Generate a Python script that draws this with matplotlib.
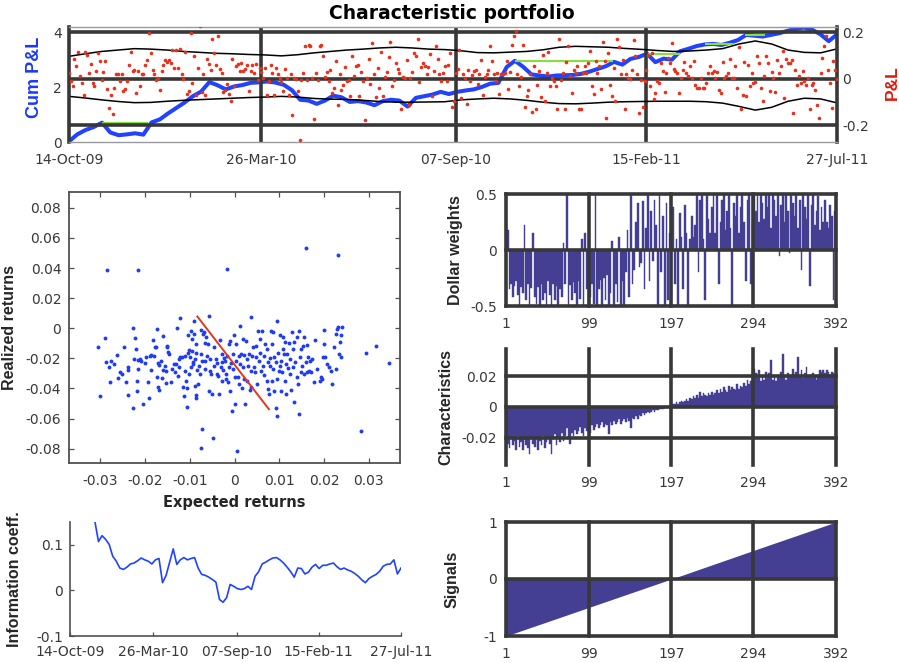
import numpy as np
import pandas as pd
import matplotlib
matplotlib.use("Agg")
import matplotlib.pyplot as plt

plt.rcParams['font.family'] = ['DejaVu Sans']
plt.rcParams['axes.unicode_minus'] = False

# ---------------------------------------------------------------- data
start, end = '2009-10-14', '2011-07-27'
date_ticks = ['14-Oct-09', '26-Mar-10', '07-Sep-10', '15-Feb-11', '27-Jul-11']

# weekly cumulative P&L
cum_pnl = [
    0.02, 0.28, 0.44, 0.55, 0.71, 0.35, 0.25, 0.28, 0.32, 0.27,
    0.72, 0.83, 1.05, 1.25, 1.45, 1.68, 1.85, 2.20, 2.08, 1.93,
    2.04, 2.09, 2.17, 2.19, 2.22, 2.18, 2.10, 1.90, 1.55, 1.52,
    1.40, 1.52, 1.70, 1.64, 1.47, 1.50, 1.45, 1.35, 1.50, 1.55,
    1.52, 1.30, 1.62, 1.68, 1.74, 1.84, 1.76, 1.84, 1.89, 1.93,
    2.02, 2.14, 2.17, 2.75, 2.98, 2.76, 2.48, 2.44, 2.40, 2.44,
    2.45, 2.46, 2.50, 2.58, 2.68, 2.78, 2.94, 2.84, 3.05, 3.12,
    3.24, 2.93, 3.06, 3.02, 3.33, 3.42, 3.52, 3.58, 3.60, 3.56,
    3.64, 3.74, 3.93, 3.90, 3.87, 3.93, 3.99, 4.08, 4.15, 4.20,
    4.12, 3.95, 3.70, 3.95,
]

# flat periods below the previous high
flat_start = ['2009-11-11', '2010-10-27', '2011-02-17', '2011-04-06', '2011-05-10']
flat_end = ['2009-12-20', '2011-01-18', '2011-03-16', '2011-04-30', '2011-05-27']
flat_level = [0.71, 2.98, 3.24, 3.60, 3.93]

# daily P&L
pnl = [
    0.026, -0.007, -0.029, 0.087, 0.054, 0.116, 0.011, -0.017, -0.067, 0.114,
    0.101, 0.026, 0.066, -0.017, -0.031, 0.033, 0.111, 0.079, -0.003, 0.029,
    0.079, -0.043, -0.124, -0.071, -0.150, -0.039, 0.019, 0.019, -0.010, 0.019,
    -0.053, -0.043, -0.010, 0.061, 0.114, 0.033, 0.040, -0.060, 0.036, -0.031,
    0.021, 0.019, 0.061, 0.080, 0.197, 0.111, 0.040, 0.023, -0.003, 0.004,
    -0.049, 0.033, 0.061, 0.083, 0.071, 0.083, 0.069, 0.126, 0.047, 0.126,
    0.047, 0.129, 0.019, 0.000, 0.116, -0.063, -0.053, 0.197, -0.017, 0.097,
    -0.067, 0.047, 0.226, -0.057, 0.019, -0.067, 0.086, 0.066, 0.040, 0.171,
    0.111, 0.061, 0.186, 0.043, 0.026, -0.057, -0.046, -0.020, -0.063, -0.096,
    0.086, -0.029, 0.054, 0.066, 0.036, 0.069, 0.033, 0.043, 0.061, -0.053,
    0.033, 0.061, 0.026, 0.066, -0.003, 0.047, 0.029, 0.004, 0.047, -0.067,
    -0.010, 0.061, 0.026, -0.067, 0.047, 0.019, 0.004, -0.013, -0.053, 0.043,
    0.004, -0.071, 0.019, -0.153, 0.004, 0.000, -0.050, -0.263, -0.003, 0.026,
    0.140, -0.003, 0.147, 0.143, 0.004, -0.174, 0.026, -0.003, 0.143,
    0.147, 0.097, 0.010, 0.029, -0.007, 0.040, -0.060, -0.039, 0.079, -0.110,
    0.020, -0.046, -0.024, 0.050, -0.007, -0.003, -0.074, 0.100, 0.012, 0.054,
    0.061, -0.074, 0.030, -0.007, -0.177, 0.004, 0.086, -0.020, 0.154, 0.021,
    -0.079, 0.045, -0.039, 0.116, -0.074, 0.008, 0.030, 0.093, 0.157, -0.030,
    -0.003, 0.069, 0.043, 0.026, -0.131, 0.010, 0.004, 0.080, -0.114, 0.004,
    0.030, 0.111, 0.097, 0.171, -0.015, 0.050, 0.069, 0.054, 0.020, 0.050,
    0.107, -0.074, 0.035, 0.143, 0.086, 0.023, -0.010, 0.026, 0.054, -0.007,
    0.060, 0.111, -0.120, -0.093, 0.026, 0.043, 0.126, -0.081, 0.019, 0.005,
    -0.106, 0.040, -0.007, 0.015, 0.033, 0.040, -0.020, 0.019, 0.083, -0.071,
    0.007, 0.019, 0.040, 0.140, 0.076, 0.019, -0.010, 0.026, -0.064, 0.019,
    0.021, 0.026, 0.076, -0.043, 0.030, 0.147, 0.186, 0.204, 0.019, -0.031,
    0.010, 0.147, -0.120, -0.074, -0.049, 0.020, -0.143, 0.054, -0.131, -0.024,
    0.035, -0.077, 0.104, -0.096, 0.026, 0.114, -0.031, 0.005, -0.010, -0.031,
    -0.131, 0.171, -0.003, 0.026, -0.129, 0.071, 0.143, 0.011, -0.060, 0.040,
    0.026, 0.054, -0.131,
    -0.131, 0.026, 0.054, 0.026, 0.069, 0.119, -0.029, -0.063, 0.076, 0.026,
    0.054, -0.043, 0.157, 0.076, -0.167, 0.111, -0.024, -0.074, 0.047, -0.093,
    0.171, 0.137, 0.023, 0.083, -0.129, 0.019, 0.004, 0.000, 0.040, 0.166,
    0.097, 0.023, -0.146, -0.006, -0.120, -0.007, 0.040, 0.104, -0.029, 0.111,
    -0.086, -0.060, -0.010, -0.017, 0.069, 0.033, -0.057, 0.026, 0.090, 0.069,
    0.154, 0.043, 0.033, 0.026, -0.060, 0.004, 0.040, 0.071, 0.026, 0.014,
    0.054, 0.004, 0.076, -0.024, -0.039, -0.039, 0.004, -0.039, -0.039, -0.017,
    0.026, 0.054, 0.026, 0.033, 0.004, 0.029, -0.046, -0.060, 0.071, 0.004,
    0.014, 0.026, 0.086, 0.004, 0.004, 0.054, -0.039, 0.137, -0.131, -0.067,
    0.071, -0.074, 0.061, -0.031, 0.026, -0.017, -0.014, 0.100, 0.069, -0.039,
    -0.096, 0.011, 0.097, 0.069, -0.053, 0.029, 0.004, -0.057, 0.083, 0.026,
    0.054, 0.119, -0.081, 0.086, 0.069, 0.069, 0.083, -0.146, 0.040, -0.024,
    0.011, -0.017, 0.033, -0.010, -0.024, 0.004, -0.129, -0.024, -0.017, -0.046,
    -0.110, -0.167, 0.026, 0.090, 0.140, 0.183, 0.040, -0.017, -0.125, 0.076,
    0.040, 0.000,
]

# rolling confidence band of the daily P&L
band_upper = [
    0.097, 0.108, 0.118, 0.124, 0.130, 0.128, 0.124, 0.118, 0.114, 0.110,
    0.108, 0.105, 0.103, 0.099, 0.104, 0.112, 0.118, 0.124, 0.128, 0.133,
    0.136, 0.133, 0.128, 0.126, 0.121, 0.113, 0.112, 0.115, 0.118, 0.125,
    0.136, 0.140, 0.138, 0.136, 0.131, 0.127, 0.122, 0.118, 0.120, 0.124,
    0.130, 0.150, 0.163, 0.150, 0.124, 0.114, 0.112, 0.129,
]
band_lower = [
    -0.075, -0.082, -0.090, -0.097, -0.102, -0.101, -0.096, -0.092, -0.089, -0.086,
    -0.083, -0.080, -0.078, -0.075, -0.078, -0.084, -0.087, -0.088, -0.092, -0.097,
    -0.100, -0.100, -0.099, -0.098, -0.090, -0.086, -0.083, -0.086, -0.092, -0.100,
    -0.106, -0.107, -0.104, -0.100, -0.098, -0.097, -0.096, -0.096, -0.096, -0.098,
    -0.104, -0.118, -0.134, -0.122, -0.096, -0.083, -0.086, -0.103,
]

# expected vs realized returns, in basis points
exp_ret_bp = [
    -305, -300, -290, -288, -286, -280, -279, -276, -270, -262,
    -261, -257, -251, -246, -243, -238, -238, -238, -228, -228,
    -225, -222, -221, -219, -217, -216, -216, -215, -212, -210,
    -205, -201, -197, -193, -191, -189, -187, -186, -182, -179,
    -177, -176, -173, -173, -171, -170, -169, -168, -165, -162,
    -159, -159, -156, -154, -153, -151, -150, -148, -147, -142,
    -139, -136, -132, -130, -128, -127, -124, -123, -121, -121,
    -117, -115, -113, -111, -110, -108, -107, -106, -104, -104,
    -102, -101, -100, -98, -97, -96, -95, -93, -92, -91,
    -91, -89, -89, -87, -87, -86, -85, -83, -82, -80,
    -77, -76, -76, -75, -72, -72, -70, -69, -67, -66,
    -65, -63, -61, -60, -57, -57, -55, -54, -52, -50,
    -48, -46, -45, -42, -40, -39, -37, -35, -33, -31,
    -29, -28, -28, -25, -24, -22, -20, -18, -16, -16,
    -14, -13, -12, -10, -9, -7, -5, -4, -3, -1,
    0, 2, 4, 4, 6, 7, 10, 11, 12, 13,
    15, 16, 18, 19, 21, 22, 24, 25, 27, 28,
    30, 32, 34, 36, 36, 37, 39, 41, 43, 45,
    47, 48, 51, 52, 54, 56, 58, 60, 62, 63,
    66, 67, 69, 72, 73, 75, 76, 77, 79, 80,
    82, 83, 84, 86, 86, 88, 89, 92, 92, 94,
    95, 95, 97, 99, 101, 101, 103, 104, 107, 108,
    109, 110, 112, 114, 115, 116, 118, 119, 121, 124,
    125, 127, 129, 130, 131, 133, 134, 136, 139, 140,
    142, 144, 144, 146, 148, 149, 151, 153, 155, 156,
    159, 161, 162, 164, 166, 168, 171, 174, 177, 181,
    185, 191, 194, 196, 197, 200, 201, 203, 207, 211,
    215, 218, 222, 226, 228, 229, 231, 233, 235, 237,
    238, 241, 232, 159, 282, 294, 316, 345,
]
real_ret_bp = [
    -127, -449, -67, -227, 384, -260, -356, -216, -238, -176,
    -331, -293, -304, -122, -360, -260, -278, -444, 0, -531,
    -204, -67, -138, -349, -420, 389, -271, -211, -204, -216,
    -500, -231, -189, -356, -460, -187, -176, -278, -78, -182,
    -127, -122, -4, -327, -233, -393, -411, -242, -216, -333,
    -49, -276, -249, -282, -364, -116, -127, -160, -171, -360,
    -271, -238, -293, -238, 0, -316, -204, -260, 69, -193,
    -193, -393, -449, -282, -187, -349, -398, -522, -164, -42,
    -144, -304, -189, -260, -16, -71, -149, -227, -238, 47,
    -38, -204, -382, -104, -442, -460, -167, -278, -371, -249,
    -304, -11, -171, -793, -220, -671, -38, -27, -100, -216,
    -273, -56, -182, -104, 84, -416, -287, -204, -304, -438,
    -731, -249, -127, -204, -233, -304, -316, -438, -78, -260,
    -349, -171, -227, -278, -198, -216, -304, -338, 396, -182,
    -360, -104, -260, -82, -420, -233, -549, -271, -171, -44,
    -504, -322, -104, -216, -815, -327, -182, -371, -238, 18,
    -171, -398, -71, -260, -338, -178, -500, -82, -204, -349,
    -249, -171, -411, 78, -282, -389, -182, -127, -260, -293,
    -193, -116, -367, -16, -216, -167, -71, -282, -16, -249,
    -182, -309, -104, -349, -138, -227, -404, -438, -198, -249,
    -20, -349, -104, -271, -27, -193, -416, -227, -527, -582,
    47, -338, -167, -282, -44, -249, -216, -420, -293, -138,
    -60, -171, -349, -93, -438, -238, -171, -264, -100, -304,
    -204, -411, -27, -138, -260, -93, -487, -227, -327, -60,
    -371, -567, -20, -193, -289, -138, -249, -116, -56, -304,
    -222, -111, -293, -193, -282, -216, -293, -204, -360, -78,
    -271, -349, -327, -338, -193, -104, -11, -189, -238, -256,
    -282, -367, -127, -38, -271, -4, 7, -171, -93, -42,
    -193, 7, 484, 536, -682, -167, -120, -229,
]
fit_x = [-0.0083, 0.0077]
fit_y = [0.0078, -0.0538]

# cross-section of 392 assets (every second asset shown)
asset_ticks = [1, 99, 197, 294, 392]
weights = [
    0.20, 0.18, -0.35, -0.30, -0.42, -0.32, -0.28, -0.40, -0.50, -0.33,
    -0.38, 0.22, -0.45, -0.30, -0.50, -0.34, 0.15, -0.42, -0.48, -0.33,
    -0.50, -0.30, -0.45, -0.38, -0.50, -0.28, -0.40, -0.50, -0.30, -0.45,
    -0.32, -0.50, -0.35, -0.42, 0.06, -0.30, 0.50, -0.50, -0.31, -0.45,
    -0.29, -0.38, -0.50, -0.28, -0.44, 0.10, -0.50, 0.15, -0.35, -0.50,
    -0.42, -0.30, -0.48, 0.50, -0.50, -0.35, -0.27, -0.50, -0.25, -0.45,
    -0.22, -0.50, -0.38, 0.08, -0.50, -0.30, -0.46, 0.12, -0.50, -0.28,
    -0.50, -0.20, 0.18, -0.42, 0.50, -0.30, -0.18, 0.25, 0.42, -0.15,
    -0.12, 0.44, -0.35, 0.20, 0.50, -0.28, 0.35, -0.10, 0.45, 0.22,
    -0.50, 0.50, -0.20, 0.30, -0.50, 0.42, -0.45, 0.15, -0.50, 0.38,
    -0.30, 0.10, -0.50, 0.33, 0.12, -0.35, 0.40, 0.15, -0.50, 0.10,
    0.30, 0.12, 0.22, 0.50, -0.20, 0.45, 0.50, 0.10, -0.45, 0.50,
    0.28, 0.15, 0.38, 0.50, 0.15, 0.50, -0.30, 0.25, 0.45, 0.50,
    0.18, 0.35, 0.50, 0.20, -0.50, 0.42, 0.30, 0.50, 0.15, 0.38,
    0.50, 0.25, -0.28, 0.45, 0.50, -0.30, 0.22, 0.50, 0.35, 0.50,
    0.25, 0.50, 0.42, 0.28, 0.50, 0.38, 0.50, 0.20, 0.50, 0.45,
    0.30, 0.50, -0.05, 0.40, 0.50, 0.25, 0.50, 0.35, -0.03, 0.50,
    0.42, 0.30, 0.50, 0.20, 0.45, -0.18, 0.50, 0.38, 0.28, 0.50,
    -0.32, 0.40, 0.50, 0.22, 0.35, 0.48, 0.18, 0.38, 0.25, 0.45,
    0.25, 0.20, 0.40, 0.30, -0.45, 0.35,
]
characteristics = [
    -0.031, -0.024, -0.027, -0.020, -0.025, -0.022, -0.028, -0.019, -0.026, -0.023,
    -0.028, -0.021, -0.025, -0.027, -0.031, -0.020, -0.024, -0.026, -0.021, -0.028,
    -0.022, -0.025, -0.019, -0.027, -0.023, -0.020, -0.024, -0.031, -0.021, -0.018,
    -0.025, -0.020, -0.023, -0.017, -0.022, -0.019, -0.014, -0.021, -0.024, -0.017,
    -0.019, -0.015, -0.018, -0.016, -0.013, -0.017, -0.019, -0.014, -0.016, -0.013,
    -0.017, -0.012, -0.015, -0.013, -0.011, -0.014, -0.012, -0.010, -0.013, -0.011,
    -0.012, -0.018, -0.010, -0.012, -0.009, -0.011, -0.010, -0.008, -0.011, -0.009,
    -0.008, -0.010, -0.007, -0.009, -0.014, -0.007, -0.008, -0.006, -0.008, -0.005,
    -0.006, -0.004, -0.005, -0.004, -0.003, -0.004, -0.003, -0.002, -0.003, -0.002,
    -0.002, -0.001, -0.001, -0.001, -0.0005, -0.0003, 0.0002, 0.0005, 0.001, 0.002,
    0.002, 0.003, 0.002, 0.003, 0.004, 0.003, 0.004, 0.005, 0.004, 0.006,
    0.005, 0.007, 0.006, 0.008, 0.006, 0.010, 0.007, 0.009, 0.008, 0.007,
    0.009, 0.008, 0.010, 0.008, 0.009, 0.011, 0.009, 0.012, 0.010, 0.013,
    0.011, 0.010, 0.014, 0.011, 0.013, 0.012, 0.011, 0.015, 0.012, 0.014,
    0.013, 0.016, 0.014, 0.018, 0.015, 0.017, 0.024, 0.025, 0.022, 0.019,
    0.024, 0.017, 0.021, 0.018, 0.023, 0.019, 0.022, 0.031, 0.018, 0.020,
    0.017, 0.021, 0.019, 0.023, 0.035, 0.020, 0.018, 0.022, 0.019, 0.021,
    0.025, 0.020, 0.023, 0.033, 0.021, 0.024, 0.019, 0.022, 0.026, 0.020,
    0.021, 0.019, 0.022, 0.020, 0.018, 0.021, 0.024, 0.023, 0.024, 0.022,
    0.024, 0.023, 0.021, 0.023, 0.022, 0.020,
]
signal_idx = [1, 99, 197, 294, 392]
signal_val = [-1.0, -0.5, 0.0, 0.5, 1.0]

# weekly information coefficient (starts after the warm-up window)
ic_first = '2009-12-02'
ic = [
    0.151, 0.107, 0.120, 0.112, 0.101, 0.075, 0.064, 0.049, 0.046, 0.051,
    0.058, 0.060, 0.065, 0.071, 0.067, 0.064, 0.058, 0.067, 0.070, 0.017,
    0.033, 0.062, 0.091, 0.057, 0.067, 0.072, 0.067, 0.070, 0.072, 0.049,
    0.035, 0.033, 0.029, 0.024, 0.018, -0.020, -0.026, -0.016, 0.013, 0.009,
    0.004, 0.002, 0.004, 0.009, 0.002, 0.031, 0.041, 0.058, 0.062, 0.067,
    0.071, 0.072, 0.067, 0.060, 0.051, 0.041, 0.029, 0.049, 0.048, 0.036,
    0.040, 0.051, 0.057, 0.048, 0.055, 0.055, 0.058, 0.060, 0.052, 0.046,
    0.049, 0.045, 0.042, 0.037, 0.031, 0.023, 0.017, 0.026, 0.031, 0.035,
    0.042, 0.053, 0.057, 0.058, 0.067, 0.036, 0.049,
]

cum_ticks = [0, 2, 4]
pnl_ticks = [-0.2, 0, 0.2]
exp_ticks = [-0.03, -0.02, -0.01, 0, 0.01, 0.02, 0.03]
real_ticks = [-0.08, -0.06, -0.04, -0.02, 0, 0.02, 0.04, 0.06, 0.08]
weight_ticks = [-0.5, 0, 0.5]
char_ticks = [-0.02, 0, 0.02]
signal_ticks = [-1, 0, 1]
ic_ticks = [-0.1, 0, 0.1]

# ---------------------------------------------------------------- style
W, H = 899, 663
GRID = '#383838'
GLW = 2.6
TXT = '#383838'
BAR = '#453f94'
BLUE = '#2142ff'
FRAME = '#505050'
TICK_FS = 10
VFONT = 'Liberation Sans'      # rotated axis labels
LABEL_FS = 11.5


def box(l, t, r, b):
    return [l / W, 1 - b / H, (r - l) / W, (b - t) / H]


def fmt(v):
    return '%g' % v


def vlabel(a, text, x, y, fs=LABEL_FS, color='#262626', **kw):
    a.set_ylabel(text, fontsize=fs, fontweight='bold', color=color,
                 family=VFONT, **kw)
    a.yaxis.set_label_coords(x, y)


fig = plt.figure(figsize=(W / 100, H / 100), dpi=100)

# ---------------------------------------------------------------- P&L panel
t0, t1 = pd.Timestamp(start), pd.Timestamp(end)
tick_dates = pd.to_datetime(date_ticks, format='%d-%b-%y')

ax = fig.add_axes(box(69, 27, 837, 142))
ax2 = ax.twinx()
ax.set_xlim(t0, t1)
ax.set_ylim(0, 4.22)
ax2.set_ylim(-0.271, 0.223)

cum_dates = pd.date_range(start, periods=len(cum_pnl), freq='7D')
ax.plot(cum_dates, cum_pnl, color=BLUE, lw=2.9, solid_joinstyle='round', zorder=2)
ax.hlines(flat_level, pd.to_datetime(flat_start), pd.to_datetime(flat_end),
          color='#86e03a', lw=1.5, zorder=3)

for y in pnl_ticks:
    ax2.axhline(y, color=GRID, lw=GLW, zorder=1)
for d in tick_dates[1:-1]:
    ax2.axvline(d, color=GRID, lw=GLW, zorder=1)

band_dates = pd.date_range(start, end, periods=len(band_upper))
ax2.plot(band_dates, band_upper, color='k', lw=1.1, zorder=2)
ax2.plot(band_dates, band_lower, color='k', lw=1.1, zorder=2)
pnl_dates = pd.date_range(start, end, periods=len(pnl))
ax2.plot(pnl_dates, pnl, 'o', ms=2.6, color='#e8301a', mec='none', zorder=3)

for s in ax.spines.values():
    s.set_visible(False)
for k in ('left', 'right'):
    ax2.spines[k].set_color(GRID)
    ax2.spines[k].set_linewidth(GLW)
for k in ('top', 'bottom'):
    ax2.spines[k].set_color('#9a9a9a')
    ax2.spines[k].set_linewidth(1.0)

ax.set_xticks(tick_dates)
ax.set_xticklabels(date_ticks)
ax.set_yticks(cum_ticks)
ax.set_yticklabels([fmt(v) for v in cum_ticks])
ax2.set_yticks(pnl_ticks)
ax2.set_yticklabels([fmt(v) for v in pnl_ticks])
ax.tick_params(axis='x', length=0, labelsize=TICK_FS, labelcolor=TXT, pad=8)
ax.tick_params(axis='y', length=0, labelsize=TICK_FS, labelcolor=TXT, pad=5)
ax2.tick_params(axis='y', length=0, labelsize=TICK_FS, labelcolor=TXT, pad=4)

vlabel(ax, 'Cum P&L', -0.034, 0.56, fs=13, color='#1a38ff')
vlabel(ax2, 'P&L', 1.0625, 0.52, fs=12.5, color='#e0180c', rotation=90)

fig.text(451.5 / W, 1 - 13.5 / H, 'Characteristic portfolio', ha='center',
         va='center', fontsize=13.5, fontweight='bold', color='black')

# ---------------------------------------------------------------- scatter panel
axs = fig.add_axes(box(69, 192, 400, 463))
axs.plot(np.array(exp_ret_bp) / 1e4, np.array(real_ret_bp) / 1e4, 'o', ms=2.8,
         color='#1f3cf2', mec='none', zorder=2)
axs.plot(fit_x, fit_y, color='#e2381a', lw=1.4, zorder=3)
axs.set_xlim(-0.037, 0.037)
axs.set_ylim(-0.0895, 0.0905)
axs.set_xticks(exp_ticks)
axs.set_xticklabels([fmt(v) for v in exp_ticks])
axs.set_yticks(real_ticks)
axs.set_yticklabels([fmt(v) for v in real_ticks])
axs.tick_params(direction='in', top=True, right=True, length=3.5, width=0.9,
                color=FRAME, labelsize=TICK_FS, labelcolor=TXT)
axs.tick_params(axis='x', pad=8)
axs.tick_params(axis='y', pad=5.5)
for s in axs.spines.values():
    s.set_color(FRAME)
    s.set_linewidth(1.3)
axs.set_xlabel('Expected returns', fontsize=10.5, fontweight='bold', color='#262626')
axs.xaxis.set_label_coords(0.498, -0.118)
vlabel(axs, 'Realized returns', -0.157, 0.5)


# ---------------------------------------------------------------- asset panels
def asset_axes(rect, ylim, yticks, label, label_x):
    a = fig.add_axes(rect)
    a.set_xlim(1, 392)
    a.set_ylim(*ylim)
    a.set_xticks(asset_ticks)
    a.set_xticklabels([str(v) for v in asset_ticks])
    a.set_yticks(yticks)
    a.set_yticklabels([fmt(v) for v in yticks])
    a.tick_params(length=0, labelsize=TICK_FS, labelcolor=TXT)
    a.tick_params(axis='x', pad=8)
    a.tick_params(axis='y', pad=6.5)
    for s in a.spines.values():
        s.set_visible(False)
    for x in asset_ticks:
        a.axvline(x, color=GRID, lw=GLW, zorder=3, clip_on=False)
    for y in yticks:
        a.axhline(y, color=GRID, lw=GLW, zorder=3, clip_on=False)
    vlabel(a, label, label_x, 0.5)
    return a


def asset_bars(a, values):
    pos = np.arange(1, 2 * len(values), 2)
    a.fill_between(pos, values, 0, step='mid', color=BAR, edgecolor=BAR,
                   linewidth=0.3, zorder=2)


axw = asset_axes(box(506, 194, 836, 306), (-0.5, 0.5), weight_ticks,
                 'Dollar weights', -0.13)
asset_bars(axw, weights)

axc = asset_axes(box(506, 349, 836, 465), (-0.038, 0.038), char_ticks,
                 'Characteristics', -0.16)
asset_bars(axc, characteristics)

axg = asset_axes(box(506, 522, 836, 636), (-1, 1), signal_ticks, 'Signals', -0.142)
axg.fill_between(signal_idx, signal_val, 0, color=BAR, linewidth=0, zorder=2)

# ---------------------------------------------------------------- IC panel
axi = fig.add_axes(box(70, 522, 401, 636))
ic_dates = pd.date_range(ic_first, periods=len(ic), freq='7D')
axi.plot(ic_dates, ic, color=BLUE, lw=1.2)
axi.set_xlim(t0, t1)
axi.set_ylim(-0.1, 0.15)
axi.set_xticks(tick_dates)
axi.set_xticklabels(date_ticks)
axi.set_yticks(ic_ticks)
axi.set_yticklabels([fmt(v) for v in ic_ticks])
axi.tick_params(direction='in', length=3, width=0.9, color=FRAME,
                labelsize=TICK_FS, labelcolor=TXT)
axi.tick_params(axis='x', pad=6.5)
axi.tick_params(axis='y', pad=5)
for k in ('top', 'right'):
    axi.spines[k].set_visible(False)
for k in ('left', 'bottom'):
    axi.spines[k].set_color(FRAME)
    axi.spines[k].set_linewidth(1.2)
vlabel(axi, 'Information coeff.', -0.145, 0.5)

fig.savefig('out.png', dpi=100)
